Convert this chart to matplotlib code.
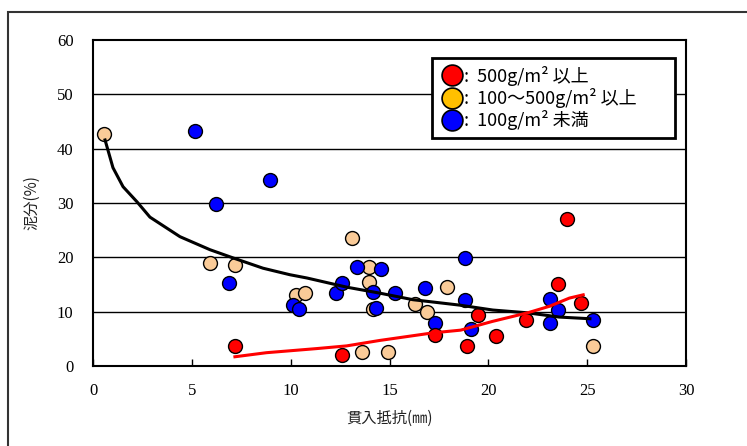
import matplotlib
matplotlib.use("Agg")
import matplotlib.pyplot as plt
from matplotlib.lines import Line2D
from matplotlib.patches import Rectangle

# ---- data ----
peach_x = [0.56, 5.92, 7.18, 10.27, 10.7, 13.1, 13.96, 13.96, 14.16, 13.6, 14.9, 16.3, 16.9, 17.9, 25.3]
peach_y = [42.7, 19.0, 18.6, 13.1, 13.4, 23.6, 18.2, 15.5, 10.5, 2.6, 2.6, 11.4, 9.9, 14.5, 3.7]

blue_x = [5.16, 6.2, 8.95, 6.88, 10.1, 10.4, 12.3, 12.6, 13.35, 14.56, 14.16, 14.3, 15.3, 16.8,
          17.3, 18.8, 18.8, 19.1, 23.1, 23.1, 23.5, 25.3]
blue_y = [43.3, 29.8, 34.3, 15.3, 11.2, 10.5, 13.4, 15.3, 18.2, 17.9, 13.6, 10.7, 13.4, 14.4,
          7.9, 12.2, 19.9, 6.8, 12.3, 7.9, 10.3, 8.5]

red_x = [7.18, 12.6, 17.3, 19.5, 18.9, 20.4, 21.9, 24.0, 23.5, 24.7]
red_y = [3.7, 2.0, 5.7, 9.4, 3.7, 5.5, 8.5, 27.1, 15.1, 11.6]

# trend curves
black_curve_x = [0.61, 1.01, 1.52, 2.23, 2.88, 4.40, 5.92, 7.08, 8.60, 9.96, 10.82, 12.85,
                 14.52, 16.19, 18.56, 20.23, 21.95, 23.62, 25.14]
black_curve_y = [41.6, 36.5, 33.0, 30.2, 27.4, 23.8, 21.4, 19.9, 18.0, 16.8, 16.2, 14.5,
                 13.4, 12.2, 11.2, 10.3, 9.8, 9.0, 8.7]
red_curve_x = [7.18, 8.78, 9.96, 11.3, 12.83, 14.5, 17.2, 18.6, 20.2, 22.0, 23.1, 24.1, 24.8]
red_curve_y = [1.7, 2.45, 2.8, 3.2, 3.7, 4.7, 6.1, 6.6, 8.2, 9.8, 11.0, 12.5, 13.1]

legend_labels = [":  500g/m\u00b2 以上", ":  100\uff5e500g/m\u00b2 以上", ":  100g/m\u00b2 未満"]
x_ticks = [0, 5, 10, 15, 20, 25, 30]
y_ticks = [0, 10, 20, 30, 40, 50, 60]
x_label = "貫入抵抗(㎜)"
y_label = "泥分(%)"

# ---- figure ----
W, H = 747, 446
fig = plt.figure(figsize=(W / 100, H / 100), dpi=100)
fig.patch.set_facecolor("white")

# outer frame (clipped at right and bottom)
fig.patches.append(Rectangle((8 / W, -0.05), 1.1, 1 - 12 / H + 0.05, transform=fig.transFigure,
                             fill=False, edgecolor="#333333", linewidth=1.5, zorder=0))

ax = fig.add_axes([93 / W, 1 - 366 / H, (686 - 93) / W, (366 - 40) / H])
ax.set_xlim(0, 30)
ax.set_ylim(0, 60)

for v in y_ticks[1:-1]:
    ax.axhline(v, color="black", linewidth=1.0, zorder=1)

ms = 10
ax.plot(peach_x, peach_y, "o", color="#FACB98", markeredgecolor="black", markeredgewidth=1.0,
        markersize=ms, zorder=3, linestyle="none")
ax.plot(blue_x, blue_y, "o", color="#0000FF", markeredgecolor="black", markeredgewidth=1.0,
        markersize=ms, zorder=3, linestyle="none")
ax.plot(red_x, red_y, "o", color="#FF0000", markeredgecolor="black", markeredgewidth=1.0,
        markersize=ms, zorder=3, linestyle="none")

ax.plot(black_curve_x, black_curve_y, color="black", linewidth=2.2, zorder=4)
ax.plot(red_curve_x, red_curve_y, color="#FF0000", linewidth=2.2, zorder=4)

for s in ax.spines.values():
    s.set_linewidth(1.5)
    s.set_color("black")

ax.set_xticks(x_ticks)
ax.set_yticks(y_ticks)
ax.tick_params(axis="x", direction="in", length=5, width=1, pad=12)
ax.tick_params(axis="y", direction="in", length=0, pad=14)
tick_font = dict(family=["Liberation Serif"], size=12)
ax.set_xticklabels([str(v) for v in x_ticks], **tick_font)
ax.set_yticklabels([str(v) for v in y_ticks], **tick_font)

ax.set_xlabel(x_label, family=["Noto Sans CJK JP"], fontsize=11, labelpad=8, color="#222222")
ax.set_ylabel(y_label, family=["Noto Sans CJK JP"], fontsize=11, labelpad=12, color="#222222")

handles = [
    Line2D([], [], marker="o", linestyle="none", markersize=15, markerfacecolor="#FF0000",
           markeredgecolor="black", markeredgewidth=1.2),
    Line2D([], [], marker="o", linestyle="none", markersize=15, markerfacecolor="#FFC000",
           markeredgecolor="black", markeredgewidth=1.2),
    Line2D([], [], marker="o", linestyle="none", markersize=15, markerfacecolor="#0000FF",
           markeredgecolor="black", markeredgewidth=1.2),
]
leg = ax.legend(handles, legend_labels, loc="upper left",
                bbox_to_anchor=(0.572, 0.706, 0.409, 0.24), mode="expand",
                frameon=True, fancybox=False, borderpad=0.45, labelspacing=0.12,
                handletextpad=0.0, handlelength=1.3, borderaxespad=0,
                prop={"family": ["Noto Sans CJK JP", "DejaVu Sans"], "size": 13})
leg.get_frame().set_edgecolor("black")
leg.get_frame().set_linewidth(2.0)
leg.get_frame().set_facecolor("white")
leg.get_frame().set_alpha(1)
leg.set_zorder(10)

fig.savefig("out.png", dpi=100, facecolor="white")
